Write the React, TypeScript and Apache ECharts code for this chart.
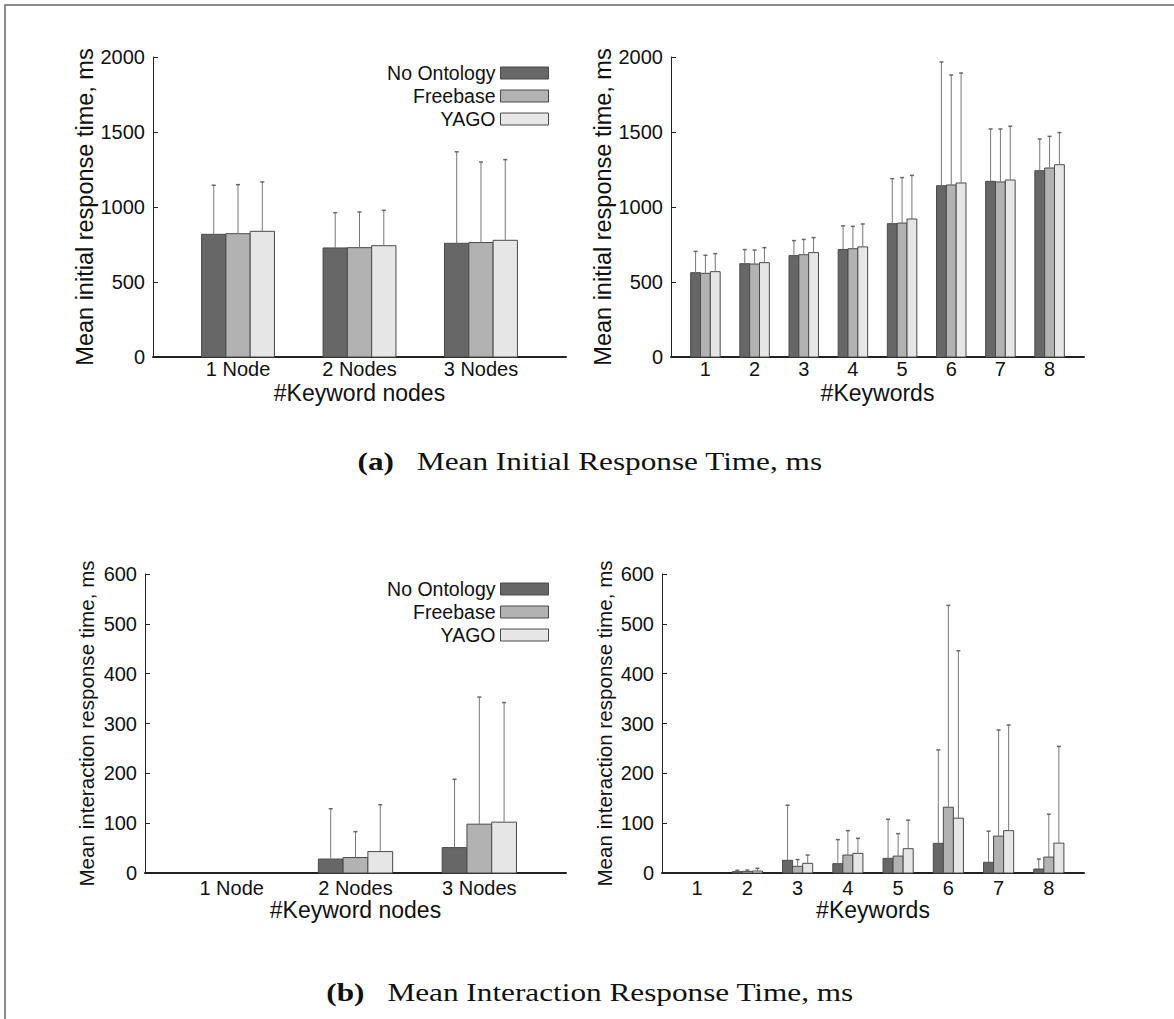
import React, { useEffect, useRef } from 'react';
import * as echarts from 'echarts';

const seriesNames = ['No Ontology', 'Freebase', 'YAGO'];
const seriesColors = ['#676767', '#b2b2b2', '#e6e6e6'];
const nodeCategories = ['1 Node', '2 Nodes', '3 Nodes'];
const keywordCategories = ['1', '2', '3', '4', '5', '6', '7', '8'];

// (a) Mean initial response time, by #keyword nodes (mean, upper end of error bar)
const initNodesNoOnt = [818, 727, 758];
const initNodesNoOntUpper = [1145, 962, 1368];
const initNodesFreebase = [822, 729, 763];
const initNodesFreebaseUpper = [1149, 967, 1300];
const initNodesYago = [838, 742, 778];
const initNodesYagoUpper = [1167, 978, 1316];

// (a) Mean initial response time, by #keywords
const initKwNoOnt = [562, 622, 676, 717, 889, 1142, 1171, 1242];
const initKwNoOntUpper = [704, 716, 776, 874, 1189, 1967, 1520, 1453];
const initKwFreebase = [558, 620, 682, 722, 893, 1147, 1167, 1260];
const initKwFreebaseUpper = [678, 713, 784, 871, 1196, 1880, 1520, 1471];
const initKwYago = [569, 629, 696, 734, 920, 1160, 1180, 1282];
const initKwYagoUpper = [689, 729, 796, 887, 1211, 1893, 1538, 1496];

// (b) Mean interaction response time, by #keyword nodes
const interNodesNoOnt = [0, 28, 51];
const interNodesNoOntUpper = [0, 129, 188];
const interNodesFreebase = [0, 31, 98];
const interNodesFreebaseUpper = [0, 83, 353];
const interNodesYago = [0, 43, 102];
const interNodesYagoUpper = [0, 137, 342];

// (b) Mean interaction response time, by #keywords
const interKwNoOnt = [0, 2.7, 25.4, 18.7, 29.4, 59.5, 21.4, 8];
const interKwNoOntUpper = [0, 5.3, 136, 67, 108, 247, 84, 28];
const interKwFreebase = [0, 3.3, 13.4, 36, 34, 132, 74, 32];
const interKwFreebaseUpper = [0, 6, 27, 85, 79, 537, 287, 118];
const interKwYago = [0, 4, 19.4, 39.4, 48.8, 110, 85, 60];
const interKwYagoUpper = [0, 9.4, 36, 69.5, 106, 446, 297, 254];

const initialAxisMax = 2000;
const initialAxisInterval = 500;
const interactionAxisMax = 600;
const interactionAxisInterval = 100;

const SANS = '"Liberation Sans", Arial, Helvetica, sans-serif';
const SERIF = '"Liberation Serif", "Times New Roman", serif';
const BAR_W = 0.2;

function makeRender(s: number) {
  return (params: any, api: any) => {
    const x = api.value(0) as number;
    const y = api.value(1) as number;
    const up = api.value(2) as number;
    const children: any[] = [];
    if (!y && !up) return { type: 'group', children };
    const cx = x + (s - 1) * BAR_W;
    const pl = api.coord([cx - BAR_W / 2, y]);
    const pr = api.coord([cx + BAR_W / 2, 0]);
    const pTop = api.coord([cx, y]);
    const pUp = api.coord([cx, up]);
    children.push({
      type: 'rect',
      shape: { x: pl[0], y: pl[1], width: pr[0] - pl[0], height: pr[1] - pl[1] },
      style: { fill: seriesColors[s], stroke: '#4a4a4a', lineWidth: 1 },
    });
    if (up > y) {
      children.push({
        type: 'line',
        shape: { x1: pTop[0], y1: pTop[1], x2: pUp[0], y2: pUp[1] },
        style: { stroke: '#777777', lineWidth: 1 },
      });
      children.push({
        type: 'line',
        shape: { x1: pUp[0] - 2, y1: pUp[1], x2: pUp[0] + 2, y2: pUp[1] },
        style: { stroke: '#666666', lineWidth: 1.5 },
      });
    }
    return { type: 'group', children };
  };
}

function buildData(means: number[], uppers: number[]) {
  return means.map((m, i) => [i + 1, m, uppers[i]]);
}

export default function App() {
  const ref = useRef<HTMLDivElement>(null);
  useEffect(() => {
    if (!ref.current) return;
    const chart = echarts.init(ref.current, undefined, { renderer: 'svg' });

    const grids = [
      { left: 153, top: 57, width: 413, height: 300 },
      { left: 671, top: 57, width: 413, height: 300 },
      { left: 145, top: 574, width: 421, height: 299 },
      { left: 662, top: 574, width: 422, height: 299 },
    ];
    const cats = [nodeCategories, keywordCategories, nodeCategories, keywordCategories];
    const xNames = ['#Keyword nodes', '#Keywords', '#Keyword nodes', '#Keywords'];
    const yNames = [
      'Mean initial response time, ms',
      'Mean initial response time, ms',
      'Mean interaction response time, ms',
      'Mean interaction response time, ms',
    ];
    const yMax = [initialAxisMax, initialAxisMax, interactionAxisMax, interactionAxisMax];
    const yInt = [initialAxisInterval, initialAxisInterval, interactionAxisInterval, interactionAxisInterval];
    const yNameSize = [23.5, 23.5, 20.6, 20.6];
    const yNameGap = [54, 54, 48, 47];
    const xLabelMargin = [2, 2, 5, 5];
    const xNameGap = [24, 24, 22, 22];

    const dataSets = [
      [buildData(initNodesNoOnt, initNodesNoOntUpper), buildData(initNodesFreebase, initNodesFreebaseUpper), buildData(initNodesYago, initNodesYagoUpper)],
      [buildData(initKwNoOnt, initKwNoOntUpper), buildData(initKwFreebase, initKwFreebaseUpper), buildData(initKwYago, initKwYagoUpper)],
      [buildData(interNodesNoOnt, interNodesNoOntUpper), buildData(interNodesFreebase, interNodesFreebaseUpper), buildData(interNodesYago, interNodesYagoUpper)],
      [buildData(interKwNoOnt, interKwNoOntUpper), buildData(interKwFreebase, interKwFreebaseUpper), buildData(interKwYago, interKwYagoUpper)],
    ];

    const xAxis = grids.map((_, g) => ({
      type: 'value',
      gridIndex: g,
      min: 0.3,
      max: cats[g].length + 0.7,
      axisLine: { show: true, onZero: false, lineStyle: { color: '#222', width: 2 } },
      axisTick: { show: false },
      splitLine: { show: false },
      axisLabel: {
        customValues: cats[g].map((_, i) => i + 1),
        formatter: (v: number) => cats[g][Math.round(v) - 1] ?? '',
        fontSize: 20,
        color: '#111',
        fontFamily: SANS,
        margin: xLabelMargin[g],
      },
      name: xNames[g],
      nameLocation: 'middle',
      nameGap: xNameGap[g],
      nameTextStyle: { fontSize: 23, color: '#111', fontFamily: SANS },
    }));

    const yAxis = grids.map((_, g) => ({
      type: 'value',
      gridIndex: g,
      min: 0,
      max: yMax[g],
      interval: yInt[g],
      axisLine: { show: true, onZero: false, lineStyle: { color: '#222', width: 1 } },
      axisTick: { show: true, inside: true, length: 5, lineStyle: { color: '#222' } },
      splitLine: { show: false },
      axisLabel: {
        fontSize: 20,
        color: '#111',
        fontFamily: SANS,
        margin: 8,
        formatter: (v: number) => String(v),
      },
      name: yNames[g],
      nameLocation: 'middle',
      nameRotate: 90,
      nameGap: yNameGap[g],
      nameTextStyle: { fontSize: yNameSize[g], color: '#111', fontFamily: SANS },
    }));

    const series: any[] = [];
    grids.forEach((_, g) => {
      for (let s = 0; s < 3; s++) {
        series.push({
          type: 'custom',
          name: seriesNames[s],
          xAxisIndex: g,
          yAxisIndex: g,
          itemStyle: { color: seriesColors[s] },
          encode: { x: 0, y: 1 },
          renderItem: makeRender(s),
          data: dataSets[g][s],
          clip: false,
        });
      }
    });

    const legendData = seriesNames.map((n, i) => ({
      name: n,
      itemStyle: { color: seriesColors[i], borderColor: '#4a4a4a', borderWidth: 1 },
    }));
    const legendBase = {
      orient: 'vertical',
      align: 'right',
      right: 625,
      itemWidth: 48,
      itemHeight: 12,
      itemGap: 3,
      padding: 0,
      icon: 'rect',
      selectedMode: false,
      textStyle: { fontSize: 19.5, color: '#111', fontFamily: SANS },
      data: legendData,
    };

    const captionStyle = (label: string, text: string) => ({
      text: `{b|${label}}${text}`,
      rich: { b: { fontWeight: 'bold', fontSize: 25, fontFamily: SERIF, fill: '#111', padding: [0, 18, 0, 0] } },
      fontSize: 25,
      fontFamily: SERIF,
      fill: '#111',
      align: 'center',
      verticalAlign: 'middle',
    });

    chart.setOption({
      animation: false,
      backgroundColor: '#ffffff',
      grid: grids,
      xAxis,
      yAxis,
      series,
      legend: [
        { ...legendBase, top: 63 },
        { ...legendBase, top: 579 },
      ],
      graphic: [
        {
          type: 'rect',
          silent: true,
          shape: { x: 5, y: 5, width: 1400, height: 1400 },
          style: { fill: 'none', stroke: '#666', lineWidth: 1.5 },
        },
        {
          type: 'text',
          x: 590,
          y: 462,
          scaleX: 1.25,
          style: captionStyle('(a)', 'Mean Initial Response Time, ms'),
        },
        {
          type: 'text',
          x: 590,
          y: 993,
          scaleX: 1.25,
          style: captionStyle('(b)', 'Mean Interaction Response Time, ms'),
        },
      ],
    });
    return () => chart.dispose();
  }, []);
  return (
    <div
      ref={ref}
      style={{ position: 'absolute', left: 0, top: 0, width: 1174, height: 1019, background: '#fff' }}
    />
  );
}
